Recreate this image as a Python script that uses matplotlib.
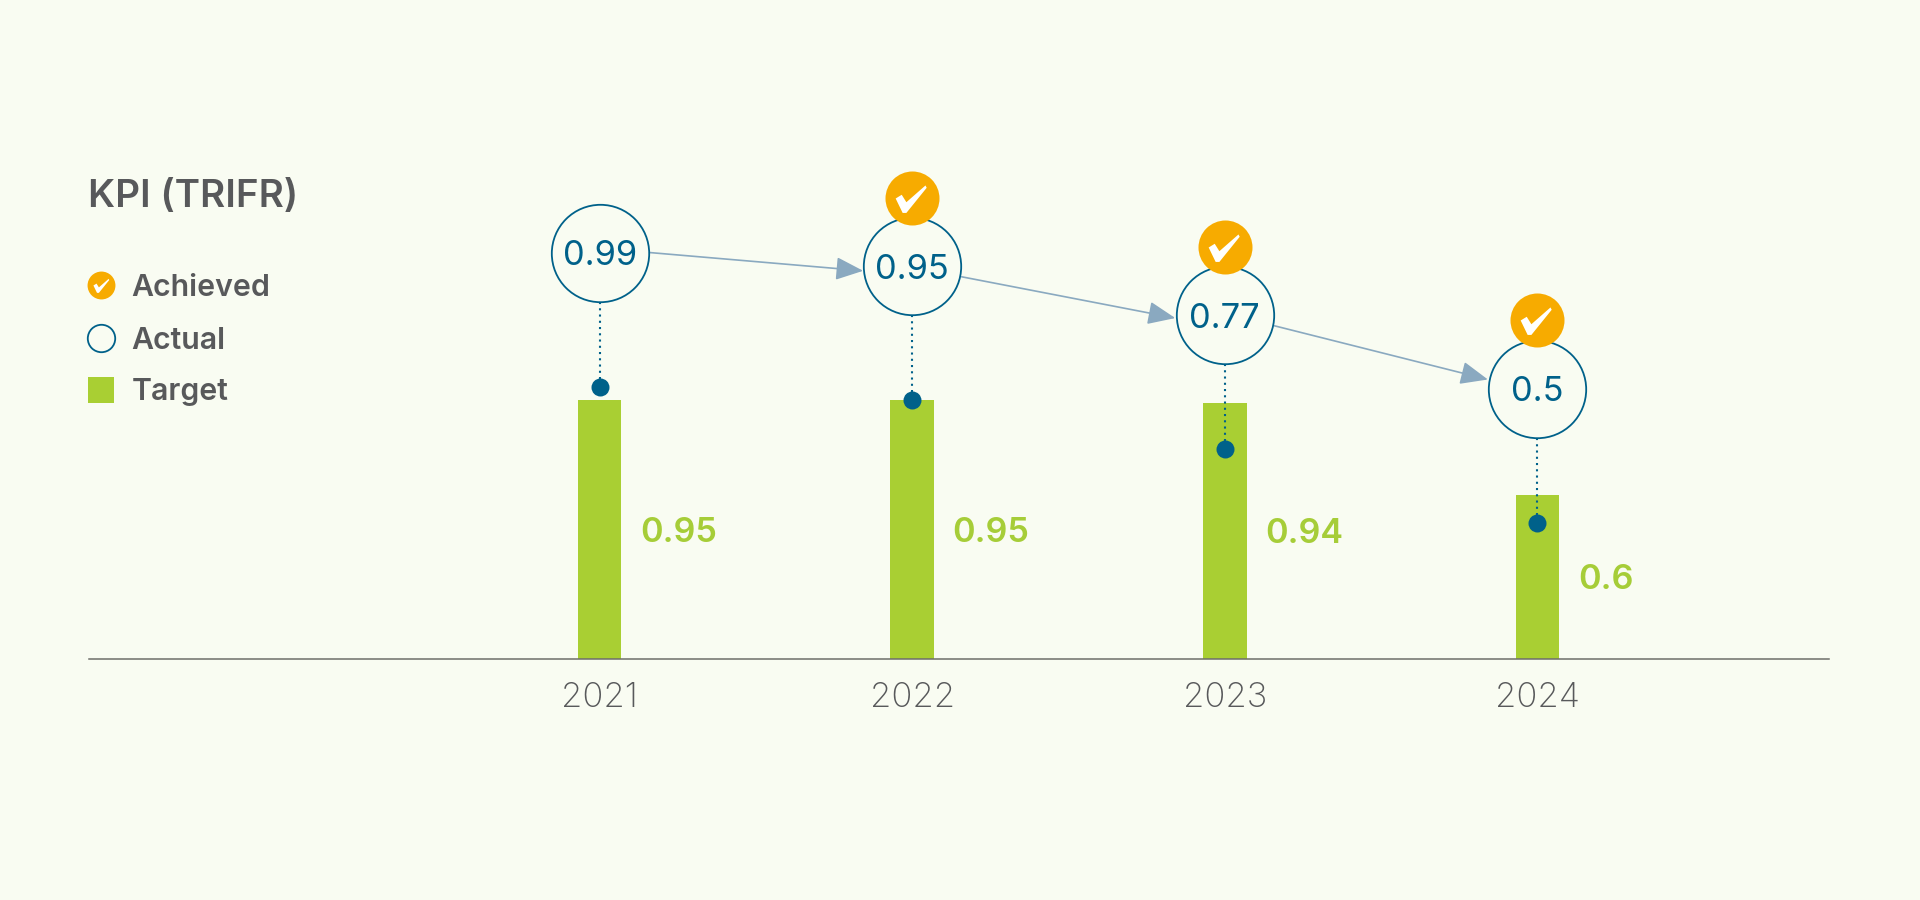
import matplotlib
matplotlib.use("Agg")
import matplotlib.pyplot as plt
from matplotlib.path import Path

plt.rcParams['font.family'] = ['Inter', 'DejaVu Sans']

years = [2021, 2022, 2023, 2024]
target = [0.95, 0.95, 0.94, 0.6]
actual = [1.0, 0.95, 0.77, 0.5]  # where the dots sit
actual_labels = ['0.99', '0.95', '0.77', '0.5']
target_labels = ['0.95', '0.95', '0.94', '0.6']
achieved = [False, True, True, True]
legend_labels = ['Achieved', 'Actual', 'Target']

BG = '#f9fcf2'
GREEN = '#a9cf33'
GREEN_TXT = '#a6cd38'
BLUE = '#00618a'
ORANGE = '#f7ab00'
ARROW = '#8aa9c0'
GREY = '#58595b'

# check mark shape, pixels around the badge centre
check = Path([(-17, 0), (-10.5, 4), (-5.5, -4), (15, 14), (16.3, 11.5), (-5.5, -15.5), (-9.5, -15.5), (-17, 0)],
             closed=True)


def fx(x):
    return x / 1920


def fy(y):
    return 1 - y / 900


fig = plt.figure(figsize=(19.2, 9), dpi=100, facecolor=BG)
ax = fig.add_axes([0, 0, 1, 1], facecolor=BG)

PX_X = 312.6  # pixels per year
PX_Y = 272.0  # pixels per unit
ax.set_xlim(2021 - 599.6 / PX_X, 2021 + 1320.4 / PX_X)
ax.set_ylim(-(900 - 658.5) / PX_Y, 658.5 / PX_Y)

ax.bar(years, target, width=0.14, color=GREEN, zorder=2)

for s in ['top', 'left', 'right']:
    ax.spines[s].set_visible(False)
ax.spines['bottom'].set_position(('data', 0))
ax.spines['bottom'].set_bounds(2021 - 511 / PX_X, 2021 + 1229 / PX_X)
ax.spines['bottom'].set_color('#6e6e6a')
ax.spines['bottom'].set_linewidth(1.1)
ax.spines['bottom'].set_zorder(3)
ax.set_yticks([])
ax.set_xticks(years)
ax.set_xticklabels([str(y) for y in years], fontsize=25, fontweight='light', color=GREY)
ax.tick_params(axis='x', length=0, pad=17)

for i, y in enumerate(years):
    cy = actual[i] + 134 / PX_Y
    # dotted drop line
    ax.plot([y, y], [cy - 49 / PX_Y, actual[i]], color=BLUE, lw=1.5, ls=(0, (1, 2)), zorder=3)
    ax.scatter([y], [actual[i]], s=168, color=BLUE, linewidths=0, zorder=4)
    ax.scatter([y], [cy], s=4917, facecolor=BG, edgecolor=BLUE, linewidths=1.3, zorder=5)
    ax.text(y, cy, actual_labels[i], fontsize=24.8, color=BLUE, ha='center', va='center_baseline', zorder=6)
    ax.text(y + 40.5 / PX_X, target[i] / 2, target_labels[i], fontsize=24.6, fontweight='semibold', color=GREEN_TXT,
            ha='left', va='center_baseline')
    if achieved[i]:
        ax.scatter([y], [cy + 68.5 / PX_Y], s=1512, color=ORANGE, linewidths=0, zorder=7)
        ax.scatter([y - 1 / PX_X], [cy + 68.5 / PX_Y], s=520, marker=check, color='white', linewidths=0, zorder=8)

# arrows between the circles, start and end offsets in pixels from circle centres
starts = [(49.5, 0), (49.5, 10.7), (49.5, 10.7)]
ends = [(-49, 4.7), (-49.5, 3), (-49.5, -9)]
for i in range(3):
    c0 = actual[i] + 134 / PX_Y
    c1 = actual[i + 1] + 134 / PX_Y
    ax.annotate('', xy=(years[i + 1] + ends[i][0] / PX_X, c1 - ends[i][1] / PX_Y),
                xytext=(years[i] + starts[i][0] / PX_X, c0 - starts[i][1] / PX_Y),
                arrowprops=dict(arrowstyle='-|>,head_length=1.0,head_width=0.42', mutation_scale=17, color=ARROW,
                                lw=1.2, shrinkA=0, shrinkB=0), zorder=4)

# title and legend
fig.text(fx(88), fy(206.7), 'KPI (TRIFR)', fontsize=27.7, fontweight='semibold', color=GREY, va='baseline')
for label, y in zip(legend_labels, [295.7, 349, 400]):
    fig.text(fx(131.5), fy(y), label, fontsize=21.8, fontweight='semibold', color=GREY, va='baseline')

tf = fig.transFigure
ax.scatter([fx(101.2)], [fy(285)], s=403, color=ORANGE, linewidths=0, transform=tf, clip_on=False)
ax.scatter([fx(101.2)], [fy(285)], s=135, marker=check, color='white', linewidths=0, transform=tf, clip_on=False)
ax.scatter([fx(100.7)], [fy(338.3)], s=390, facecolor=BG, edgecolor=BLUE, linewidths=1.3, transform=tf, clip_on=False)
ax.scatter([fx(100.7)], [fy(389.7)], s=364, marker='s', color=GREEN, linewidths=0, transform=tf, clip_on=False)

fig.savefig('out.png', dpi=100, facecolor=BG)
